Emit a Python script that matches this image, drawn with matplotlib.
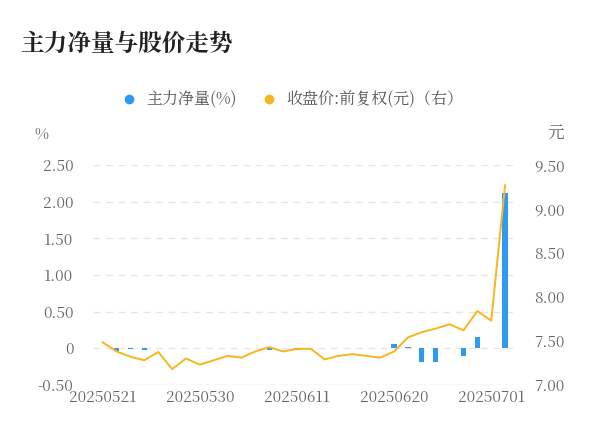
import numpy as np
import matplotlib.pyplot as plt
from matplotlib import font_manager
from matplotlib.lines import Line2D

# pick whichever CJK family is actually registered
cjk = [f.name for f in font_manager.fontManager.ttflist if 'CJK' in f.name]
plt.rcParams['font.family'] = ['sans-serif']
plt.rcParams['font.sans-serif'] = ['Noto Sans CJK SC'] + cjk + ['DejaVu Sans']

dates = ['20250521', '20250522', '20250523', '20250526', '20250527', '20250528', '20250529',
         '20250530', '20250603', '20250604', '20250605', '20250606', '20250609', '20250610',
         '20250611', '20250612', '20250613', '20250616', '20250617', '20250618', '20250619',
         '20250620', '20250623', '20250624', '20250625', '20250626', '20250627', '20250630',
         '20250701', '20250702']
net_flow = [0.0, -0.04, -0.01, -0.03, 0.0, 0.0, 0.01, 0.01, 0.01, 0.01, 0.01, 0.01, -0.03, 0.01,
            -0.03, 0.0, 0.0, 0.0, 0.0, 0.01, 0.01, 0.06, 0.02, -0.19, -0.19, 0.0, -0.11, 0.16,
            0.0, 2.12]
price = [7.485, 7.38, 7.32, 7.28, 7.375, 7.18, 7.30, 7.23, 7.28, 7.33, 7.31, 7.38, 7.43, 7.38,
         7.41, 7.41, 7.29, 7.33, 7.35, 7.33, 7.31, 7.38, 7.54, 7.60, 7.64, 7.69, 7.62, 7.84,
         7.73, 9.27]
tick_idx = [0, 7, 14, 21, 28]

fig = plt.figure(figsize=(6, 4.46), dpi=100)
ax = fig.add_axes([0.155, 0.137, 0.703, 0.493])
x = np.arange(len(dates))
ax.bar(x, net_flow, width=0.38, color='#2f9bf0', zorder=3)
ax.set_ylim(-0.5, 2.5)
ax.set_yticks([-0.5, 0, 0.5, 1.0, 1.5, 2.0, 2.5])
ax.set_yticklabels(['-0.50', '0', '0.50', '1.00', '1.50', '2.00', '2.50'])
ax.set_xlim(-0.7, 29.7)
ax.set_xticks(tick_idx)
ax.set_xticklabels([dates[i] for i in tick_idx])
ax.grid(axis='y', color='#e6e6e6', linestyle=(0, (5, 4)), linewidth=1)
for s in ax.spines.values():
    s.set_visible(False)
ax.axhline(-0.5, color='#e6e6e6', linewidth=1)
ax.tick_params(length=0, labelsize=11, colors='#666666')
ax.tick_params(axis='y', pad=14)

ax2 = ax.twinx()
ax2.plot(x, price, color='#f8b51d', linewidth=1.4, zorder=4)
ax2.set_ylim(7.0, 9.5)
ax2.set_yticks([7.0, 7.5, 8.0, 8.5, 9.0, 9.5])
ax2.set_yticklabels(['7.00', '7.50', '8.00', '8.50', '9.00', '9.50'])
for s in ax2.spines.values():
    s.set_visible(False)
ax2.tick_params(length=0, labelsize=11, colors='#666666', pad=14)

fig.text(0.033, 0.885, '主力净量与股价走势', fontsize=17, fontweight='bold', color='#222222')
fig.text(0.057, 0.69, '%', fontsize=11, color='#666666')
fig.text(0.912, 0.69, '元', fontsize=12, color='#666666')
handles = [Line2D([], [], marker='o', linestyle='', color='#2f9bf0', markersize=6),
           Line2D([], [], marker='o', linestyle='', color='#f8b51d', markersize=6)]
fig.legend(handles, ['主力净量(%)', '收盘价:前复权(元)（右）'], loc='center',
           bbox_to_anchor=(0.48, 0.777), ncol=2, frameon=False, fontsize=11.5,
           handletextpad=0.1, columnspacing=1.0, labelcolor='#555555')
fig.savefig('out.png', dpi=100)
